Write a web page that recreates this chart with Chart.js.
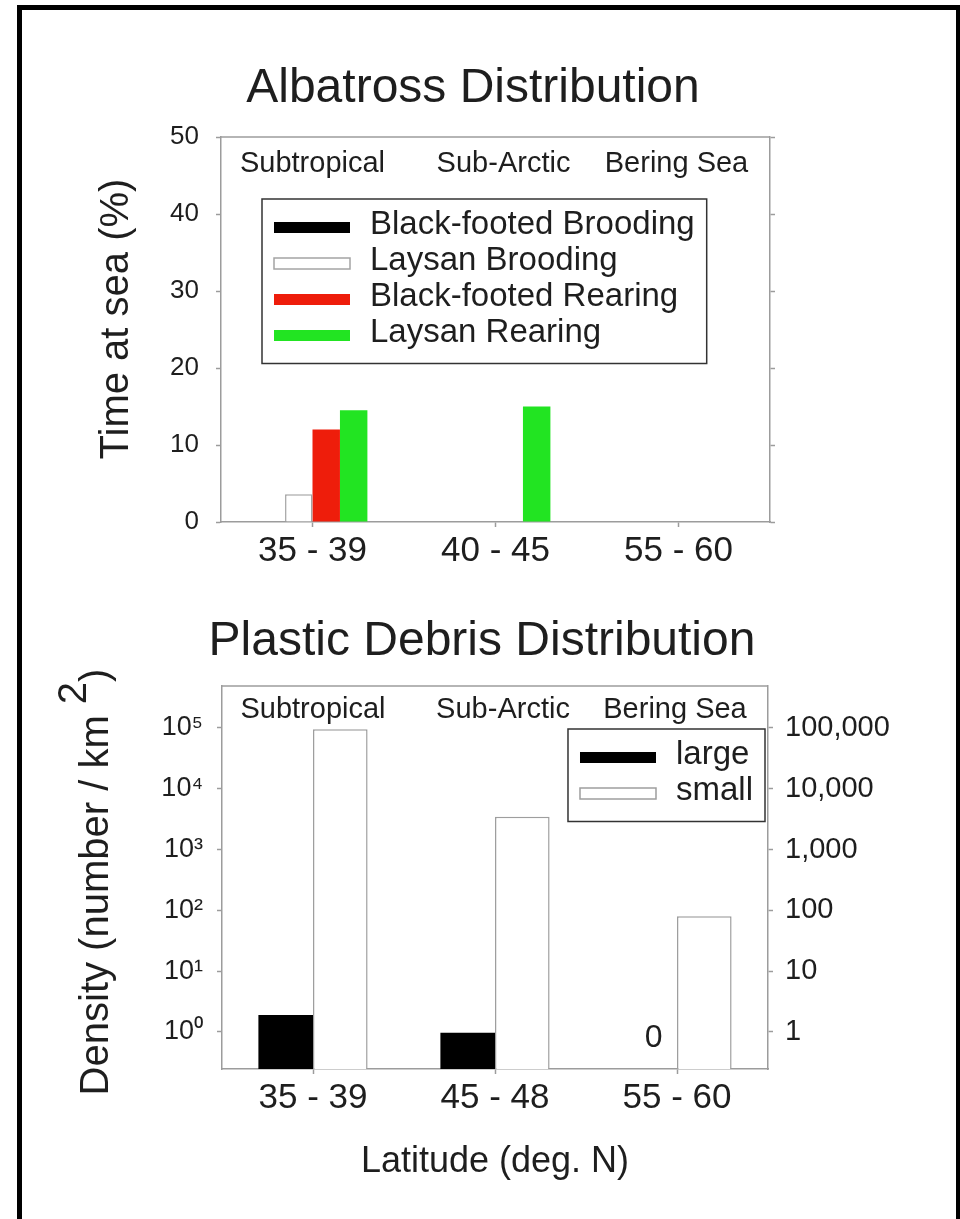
<!DOCTYPE html>
<html>
<head>
<meta charset="utf-8">
<title>Albatross and Plastic Debris Distribution</title>
<script src="https://cdn.jsdelivr.net/npm/chart.js@4.4.0/dist/chart.umd.min.js"></script>
<style>
    html, body { margin: 0; padding: 0; background: #fff; overflow: hidden; }
    body { width: 960px; height: 1219px; position: relative; }
    .frame {
        position: absolute; left: 17px; top: 5px; width: 944px; height: 1300px;
        box-sizing: border-box; border: 5px solid #000; border-bottom: none;
    }
    #albatrossChart { position: absolute; left: 0; top: 0; }
    #debrisChart { position: absolute; left: 0; top: 600px; }
</style>
</head>
<body>
<div class="frame"></div>
<canvas id="albatrossChart" width="960" height="600"></canvas>
<canvas id="debrisChart" width="960" height="619"></canvas>

<script>
// Data
const regions = ['Subtropical', 'Sub-Arctic', 'Bering Sea'];

const timeCategories = ['35 - 39', '40 - 45', '55 - 60'];
const blackFootedBrooding = [0, 0, 0];
const laysanBrooding = [3.6, 0, 0];
const blackFootedRearing = [12, 0, 0];
const laysanRearing = [14.5, 15, 0];
const timeTicks = [0, 10, 20, 30, 40, 50];

const debrisCategories = ['35 - 39', '45 - 48', '55 - 60'];
const largeDebris = [1.9, 0.97, 0];
const smallDebris = [95000, 3450, 80];
const densityTicks = [1, 10, 100, 1000, 10000, 100000];
const densityLeftLabels = ['10⁰', '10¹', '10²', '10³', '10⁴', '10⁵'];
const densityRightLabels = ['1', '10', '100', '1,000', '10,000', '100,000'];

// Styles
const FONT = "'Liberation Sans', Arial, Helvetica, sans-serif";
const INK = '#1e1e1e';
const AXIS_COLOR = '#9c9c9c';
const REGION_NUDGE = [0, 8, -2];   // small horizontal shifts of the region names

// Titles, region names, legend box and axis titles drawn on top of the chart
const figureText = {
    id: 'figureText',
    afterDraw(chart, args, opts) {
        const ctx = chart.ctx;
        const area = chart.chartArea;
        const xScale = chart.scales.x;
        const yScale = chart.scales.y;
        ctx.save();

        // top edge of the plot frame
        ctx.strokeStyle = AXIS_COLOR;
        ctx.lineWidth = 1.5;
        ctx.beginPath();
        ctx.moveTo(area.left, area.top);
        ctx.lineTo(area.right, area.top);
        ctx.stroke();

        ctx.fillStyle = INK;
        ctx.textAlign = 'center';
        ctx.textBaseline = 'alphabetic';

        // chart title
        ctx.font = `48px ${FONT}`;
        ctx.fillText(opts.title, opts.titleX, opts.titleY);

        // region names inside the plot
        ctx.font = `29px ${FONT}`;
        regions.forEach((name, i) => {
            ctx.fillText(name, xScale.getPixelForValue(i) + REGION_NUDGE[i], area.top + opts.regionDy);
        });

        // y axis title (rotated, pieces can be raised)
        ctx.save();
        ctx.translate(opts.yTitleX, opts.yTitleY);
        ctx.rotate(-Math.PI / 2);
        ctx.font = `40px ${FONT}`;
        ctx.textAlign = 'left';
        ctx.textBaseline = 'middle';
        const widths = opts.yTitle.map(p => ctx.measureText(p.text).width);
        let pos = -widths.reduce((a, b) => a + b, 0) / 2;
        opts.yTitle.forEach((p, i) => {
            ctx.fillText(p.text, pos, p.dy || 0);
            pos += widths[i];
        });
        ctx.restore();

        // x axis title
        if (opts.xTitle) {
            ctx.font = `36px ${FONT}`;
            ctx.textBaseline = 'middle';
            ctx.fillText(opts.xTitle, (area.left + area.right) / 2, opts.xTitleY);
        }

        // "0" written where a bar has no value
        if (opts.zeroLabels) {
            const meta = chart.getDatasetMeta(0);
            ctx.font = `32px ${FONT}`;
            ctx.textBaseline = 'middle';
            chart.data.datasets[0].data.forEach((v, i) => {
                if (v === 0) {
                    ctx.fillText('0', meta.data[i].x + 4, yScale.getPixelForValue(densityTicks[0]) + 6);
                }
            });
        }

        // legend box
        const lg = opts.legend;
        const datasets = chart.data.datasets;
        ctx.font = `33px ${FONT}`;
        const textW = Math.max(...datasets.map(d => ctx.measureText(d.label).width));
        const boxW = 12 + 76 + 20 + textW + 12;
        const boxH = 28.5 + (datasets.length - 1) * 36 + 28;
        const boxLeft = lg.left !== undefined ? lg.left : lg.right - boxW;
        ctx.strokeStyle = '#333';
        ctx.lineWidth = 1.5;
        ctx.strokeRect(boxLeft, lg.top, boxW, boxH);
        ctx.textAlign = 'left';
        ctx.textBaseline = 'alphabetic';
        datasets.forEach((d, i) => {
            const cy = lg.top + 28.5 + i * 36;
            ctx.fillStyle = d.backgroundColor;
            ctx.fillRect(boxLeft + 12, cy - 5.5, 76, 11);
            if (d.borderWidth) {
                ctx.strokeStyle = d.borderColor;
                ctx.lineWidth = 1.5;
                ctx.strokeRect(boxLeft + 12, cy - 5.5, 76, 11);
            }
            ctx.fillStyle = INK;
            ctx.fillText(d.label, boxLeft + 108, cy + 6);
        });

        ctx.restore();
    }
};

function axisGrid() {
    return {
        display: true,
        drawOnChartArea: false,
        drawTicks: true,
        tickLength: 5,
        tickColor: AXIS_COLOR,
        tickWidth: 1.5,
        offset: false
    };
}

function fixedSize(prop, size) {
    return function (scale) { scale[prop] = size; };
}

// Albatross Distribution
new Chart(document.getElementById('albatrossChart'), {
    type: 'bar',
    data: {
        labels: timeCategories,
        datasets: [
            { label: 'Black-footed Brooding', data: blackFootedBrooding, backgroundColor: '#000000', borderWidth: 0 },
            { label: 'Laysan Brooding', data: laysanBrooding, backgroundColor: '#ffffff', borderColor: '#a4a4a4', borderWidth: 1.5 },
            { label: 'Black-footed Rearing', data: blackFootedRearing, backgroundColor: '#ee1d0b', borderWidth: 0 },
            { label: 'Laysan Rearing', data: laysanRearing, backgroundColor: '#22e422', borderWidth: 0 }
        ]
    },
    options: {
        responsive: false,
        animation: false,
        devicePixelRatio: 1,
        layout: { padding: { left: 0, right: 180, top: 137, bottom: 0 } },
        datasets: { bar: { barPercentage: 1, categoryPercentage: 0.6 } },
        plugins: {
            legend: { display: false },
            tooltip: { enabled: false },
            figureText: {
                title: 'Albatross Distribution',
                titleX: 473, titleY: 102,
                regionDy: 35,
                yTitle: [{ text: 'Time at sea (%)' }],
                yTitleX: 117, yTitleY: 319,
                legend: { left: 262, top: 199 }
            }
        },
        scales: {
            x: {
                grid: axisGrid(),
                border: { display: true, color: AXIS_COLOR, width: 1.5 },
                ticks: { color: INK, font: { family: FONT, size: 35 }, padding: 3, maxRotation: 0 },
                afterFit: fixedSize('height', 78)
            },
            y: {
                min: 0, max: 50,
                grid: axisGrid(),
                border: { display: true, color: AXIS_COLOR, width: 1.5 },
                afterBuildTicks: scale => { scale.ticks = timeTicks.map(v => ({ value: v })); },
                ticks: { color: INK, font: { family: FONT, size: 26 }, padding: 17 },
                afterFit: fixedSize('width', 221)
            },
            y2: {
                position: 'right',
                min: 0, max: 50,
                grid: axisGrid(),
                border: { display: true, color: AXIS_COLOR, width: 1.5 },
                afterBuildTicks: scale => { scale.ticks = timeTicks.map(v => ({ value: v })); },
                ticks: { display: false },
                afterFit: fixedSize('width', 10)
            }
        }
    },
    plugins: [figureText]
});

// Plastic Debris Distribution
new Chart(document.getElementById('debrisChart'), {
    type: 'bar',
    data: {
        labels: debrisCategories,
        datasets: [
            { label: 'large', data: largeDebris, backgroundColor: '#000000', borderWidth: 0 },
            { label: 'small', data: smallDebris, backgroundColor: '#ffffff', borderColor: '#9e9e9e', borderWidth: 1.5 }
        ]
    },
    options: {
        responsive: false,
        animation: false,
        devicePixelRatio: 1,
        layout: { padding: { left: 0, right: 42, top: 86, bottom: 0 } },
        datasets: { bar: { barPercentage: 1, categoryPercentage: 0.6 } },
        plugins: {
            legend: { display: false },
            tooltip: { enabled: false },
            figureText: {
                title: 'Plastic Debris Distribution',
                titleX: 482, titleY: 55,
                regionDy: 32,
                yTitle: [{ text: 'Density (number / km ' }, { text: '2', dy: -22 }, { text: ')' }],
                yTitleX: 97, yTitleY: 282,
                xTitle: 'Latitude (deg. N)',
                xTitleY: 562,
                zeroLabels: true,
                legend: { right: 765, top: 129 }
            }
        },
        scales: {
            x: {
                grid: axisGrid(),
                border: { display: true, color: AXIS_COLOR, width: 1.5 },
                ticks: { color: INK, font: { family: FONT, size: 35 }, padding: 3, maxRotation: 0 },
                afterFit: fixedSize('height', 150)
            },
            y: {
                type: 'logarithmic',
                min: 0.246, max: 490000,
                bounds: 'data',
                grid: axisGrid(),
                border: { display: true, color: AXIS_COLOR, width: 1.5 },
                afterBuildTicks: scale => { scale.ticks = densityTicks.map(v => ({ value: v })); },
                ticks: {
                    color: INK, font: { family: FONT, size: 27 }, padding: 14,
                    callback: (value) => densityLeftLabels[densityTicks.indexOf(value)]
                },
                afterFit: fixedSize('width', 222)
            },
            y2: {
                type: 'logarithmic',
                position: 'right',
                min: 0.246, max: 490000,
                bounds: 'data',
                grid: axisGrid(),
                border: { display: true, color: AXIS_COLOR, width: 1.5 },
                afterBuildTicks: scale => { scale.ticks = densityTicks.map(v => ({ value: v })); },
                ticks: {
                    color: INK, font: { family: FONT, size: 29 }, padding: 12,
                    callback: (value) => densityRightLabels[densityTicks.indexOf(value)]
                },
                afterFit: fixedSize('width', 150)
            }
        }
    },
    plugins: [figureText]
});
</script>
</body>
</html>
